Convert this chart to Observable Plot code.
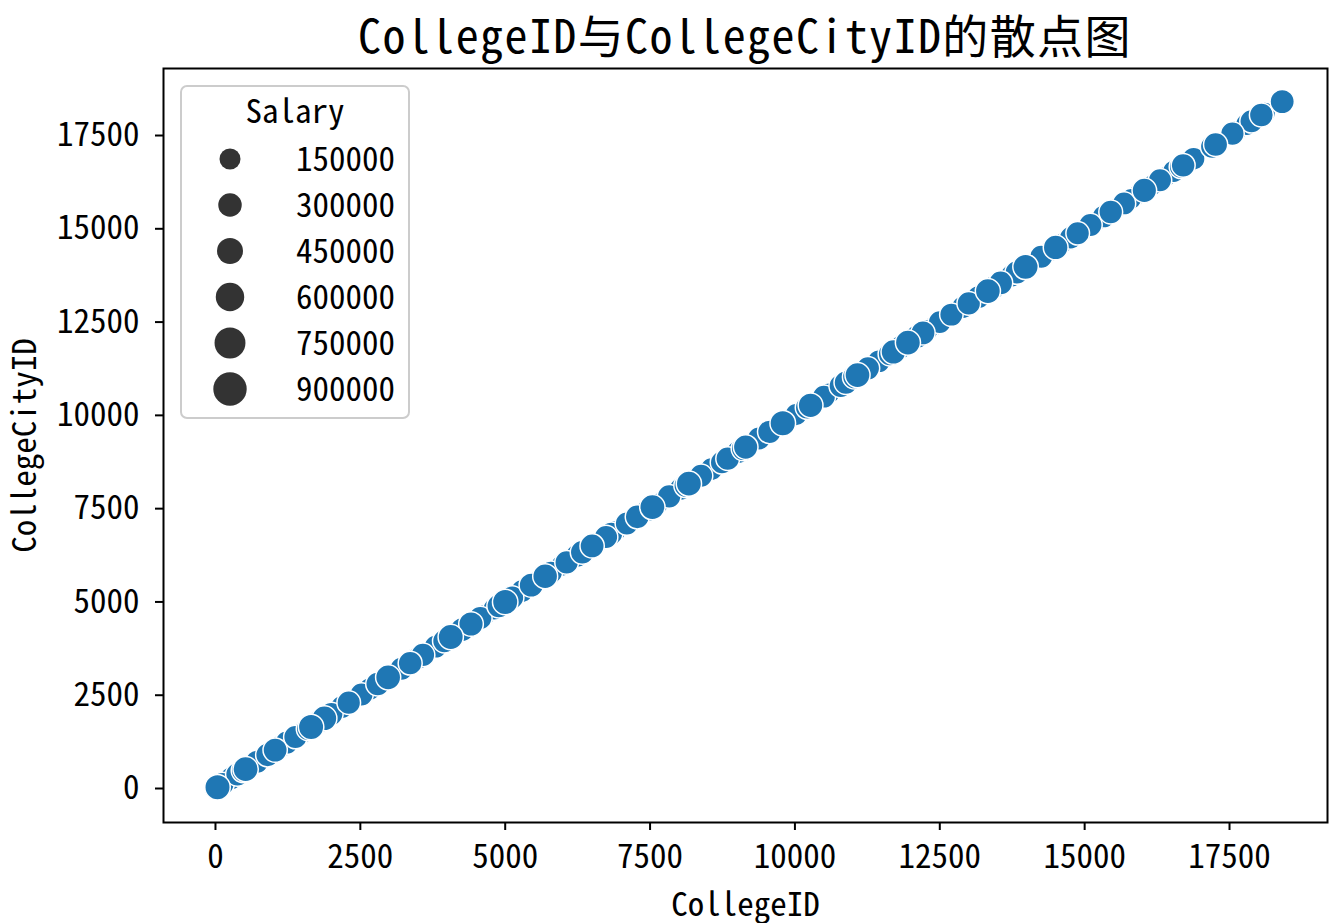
<!DOCTYPE html>
<html>
<head>
<meta charset="utf-8">
<script src="https://cdn.jsdelivr.net/npm/d3@7"></script>
<script src="https://cdn.jsdelivr.net/npm/@observablehq/plot@0.6"></script>
<style>
  html, body { margin: 0; padding: 0; background: white; }
  #title {
    margin-left: 163px; width: 1164px; height: 67px; line-height: 67px;
    text-align: center; font-size: 46px; letter-spacing: 1.4px; color: black;
    font-family: "Noto Sans Mono CJK SC", "Noto Sans CJK SC", "DejaVu Sans Mono", sans-serif;
    white-space: nowrap;
  }
</style>
</head>
<body>
<div id="title">CollegeID与CollegeCityID的散点图</div>
<div id="chart"></div>
<script>
const collegeID = [
  2, 18, 35, 52, 64, 90, 120, 155, 190, 230,
  270, 300, 340, 380, 410, 450, 480, 520, 560, 600,
  640, 680, 720, 770, 810, 850, 900, 940, 980, 1030,
  1080, 1130, 1180, 1230, 1280, 1330, 1380, 1430, 1480, 1540,
  1600, 1650, 1700, 1760, 1820, 1880, 1940, 2000, 2060, 2120,
  2180, 2240, 2300, 2370, 2440, 2520, 2590, 2660, 2730, 2800,
  2860, 2930, 2980, 3070, 3140, 3210, 3290, 3360, 3430, 3510,
  3580, 3650, 3730, 3800, 3880, 3950, 4030, 4060, 4100, 4180,
  4260, 4330, 4410, 4490, 4570, 4650, 4730, 4810, 4890, 4960,
  5000, 5040, 5120, 5200, 5290, 5370, 5450, 5540, 5620, 5690,
  5790, 5880, 5970, 6060, 6150, 6240, 6330, 6420, 6500, 6580,
  6660, 6740, 6830, 6920, 7010, 7100, 7190, 7280, 7370, 7460,
  7540, 7640, 7740, 7830, 7930, 8030, 8120, 8170, 8200, 8290,
  8380, 8470, 8560, 8650, 8740, 8840, 8930, 9020, 9110, 9150,
  9200, 9290, 9380, 9470, 9560, 9650, 9740, 9790, 9830, 9920,
  10020, 10120, 10210, 10270, 10310, 10400, 10500, 10600, 10690, 10790,
  10880, 10980, 11030, 11080, 11160, 11260, 11350, 11450, 11540, 11640,
  11700, 11730, 11830, 11920, 11950, 12020, 12110, 12210, 12300, 12400,
  12500, 12600, 12700, 12800, 12900, 13000, 13080, 13170, 13270, 13330,
  13450, 13550, 13640, 13740, 13830, 13930, 13980, 14060, 14150, 14250,
  14350, 14450, 14500, 14650, 14760, 14880, 14990, 15100, 15220, 15330,
  15450, 15560, 15680, 15800, 15930, 16030, 16180, 16300, 16420, 16540,
  16660, 16700, 16780, 16880, 17200, 17260, 17550, 17620, 17800, 17880,
  18050, 18110, 18409
];
const collegeCityID = [
  2, 18, 35, 52, 64, 90, 120, 155, 190, 230,
  270, 300, 340, 380, 410, 450, 480, 520, 560, 600,
  640, 680, 720, 770, 810, 850, 900, 940, 980, 1030,
  1080, 1130, 1180, 1230, 1280, 1330, 1380, 1430, 1480, 1540,
  1600, 1650, 1700, 1760, 1820, 1880, 1940, 2000, 2060, 2120,
  2180, 2240, 2300, 2370, 2440, 2520, 2590, 2660, 2730, 2800,
  2860, 2930, 2980, 3070, 3140, 3210, 3290, 3360, 3430, 3510,
  3580, 3650, 3730, 3800, 3880, 3950, 4030, 4060, 4100, 4180,
  4260, 4330, 4410, 4490, 4570, 4650, 4730, 4810, 4890, 4960,
  5000, 5040, 5120, 5200, 5290, 5370, 5450, 5540, 5620, 5690,
  5790, 5880, 5970, 6060, 6150, 6240, 6330, 6420, 6500, 6580,
  6660, 6740, 6830, 6920, 7010, 7100, 7190, 7280, 7370, 7460,
  7540, 7640, 7740, 7830, 7930, 8030, 8120, 8170, 8200, 8290,
  8380, 8470, 8560, 8650, 8740, 8840, 8930, 9020, 9110, 9150,
  9200, 9290, 9380, 9470, 9560, 9650, 9740, 9790, 9830, 9920,
  10020, 10120, 10210, 10270, 10310, 10400, 10500, 10600, 10690, 10790,
  10880, 10980, 11030, 11080, 11160, 11260, 11350, 11450, 11540, 11640,
  11700, 11730, 11830, 11920, 11950, 12020, 12110, 12210, 12300, 12400,
  12500, 12600, 12700, 12800, 12900, 13000, 13080, 13170, 13270, 13330,
  13450, 13550, 13640, 13740, 13830, 13930, 13980, 14060, 14150, 14250,
  14350, 14450, 14500, 14650, 14760, 14880, 14990, 15100, 15220, 15330,
  15450, 15560, 15680, 15800, 15930, 16030, 16180, 16300, 16420, 16540,
  16660, 16700, 16780, 16880, 17200, 17260, 17550, 17620, 17800, 17880,
  18050, 18110, 18409
];
const salary = [
  260000, 120000, 420000, 220000, 140000, 200000, 310000, 130000, 250000, 150000,
  280000, 120000, 240000, 320000, 140000, 260000, 340000, 410000, 150000, 270000,
  120000, 250000, 300000, 160000, 120000, 260000, 330000, 290000, 140000, 350000,
  130000, 280000, 160000, 300000, 120000, 260000, 310000, 150000, 120000, 270000,
  320000, 420000, 160000, 290000, 340000, 390000, 140000, 300000, 180000, 150000,
  280000, 130000, 310000, 170000, 120000, 300000, 150000, 260000, 130000, 330000,
  170000, 310000, 400000, 150000, 140000, 300000, 180000, 330000, 130000, 280000,
  320000, 160000, 120000, 290000, 150000, 310000, 190000, 410000, 140000, 300000,
  350000, 160000, 370000, 140000, 310000, 180000, 120000, 250000, 330000, 170000,
  420000, 150000, 300000, 130000, 270000, 160000, 350000, 180000, 140000, 390000,
  280000, 130000, 200000, 310000, 140000, 300000, 330000, 160000, 350000, 190000,
  150000, 310000, 280000, 140000, 120000, 300000, 170000, 340000, 130000, 280000,
  410000, 170000, 140000, 320000, 160000, 290000, 350000, 410000, 180000, 140000,
  300000, 150000, 270000, 130000, 290000, 320000, 160000, 300000, 350000, 370000,
  170000, 140000, 300000, 160000, 320000, 180000, 150000, 430000, 160000, 130000,
  250000, 120000, 310000, 380000, 170000, 140000, 290000, 160000, 150000, 300000,
  320000, 170000, 350000, 400000, 150000, 300000, 130000, 280000, 150000, 310000,
  380000, 160000, 300000, 180000, 400000, 150000, 330000, 350000, 170000, 140000,
  280000, 140000, 300000, 160000, 270000, 310000, 150000, 290000, 170000, 400000,
  300000, 340000, 150000, 280000, 320000, 170000, 420000, 160000, 140000, 300000,
  150000, 290000, 380000, 140000, 270000, 310000, 160000, 300000, 140000, 280000,
  320000, 150000, 290000, 170000, 150000, 370000, 180000, 300000, 140000, 260000,
  290000, 330000, 150000, 270000, 300000, 340000, 310000, 170000, 260000, 300000,
  330000, 180000, 350000
];
const xTicks = [0, 2500, 5000, 7500, 10000, 12500, 15000, 17500];
const yTicks = [0, 2500, 5000, 7500, 10000, 12500, 15000, 17500];
const legendTitle = "Salary";
const legendValues = [150000, 300000, 450000, 600000, 750000, 900000];

const data = collegeID.map((d, i) => ({CollegeID: d, CollegeCityID: collegeCityID[i], Salary: salary[i]}));

const FONT = '"Noto Sans Mono CJK SC", "Noto Sans CJK SC", "DejaVu Sans Mono", sans-serif';
const W = 1337, H = 856;
const mL = 163, mR = 10, mT = 1, mB = 101;

const plot = Plot.plot({
  width: W, height: H,
  marginTop: mT, marginBottom: mB, marginLeft: mL, marginRight: mR,
  style: {fontFamily: FONT, fontSize: "33px", color: "black", background: "white", overflow: "visible"},
  x: {domain: [-897, 19191]},
  y: {domain: [-911, 19296]},
  r: {type: "linear", domain: [0, 1000000], range: [9.26, 17.53]},
  marks: [
    Plot.dot(data, {x: "CollegeID", y: "CollegeCityID", r: "Salary", fill: "#1f77b4", stroke: "white", strokeWidth: 1.5, sort: {channel: "r"}}),
    Plot.frame({stroke: "black", strokeWidth: 2}),
    Plot.axisX({ticks: xTicks, tickFormat: d => String(d), tickSize: 8, tickPadding: 14, strokeWidth: 2,
      label: "CollegeID", labelAnchor: "center", labelOffset: 93, labelArrow: "none"}),
    Plot.axisY({ticks: yTicks, tickFormat: d => String(d), tickSize: 8, tickPadding: 16, strokeWidth: 2,
      label: "CollegeCityID", labelAnchor: "center", labelOffset: 151, labelArrow: "none"})
  ]
});
document.getElementById("chart").appendChild(plot);

// legend (seaborn style, inside the frame, upper-left)
const rs = plot.scale("r");
const rScale = d3.scaleLinear().domain(rs.domain).range(rs.range);
const svg = d3.select(plot);
const lg = svg.append("g").attr("transform", `translate(${mL + 18},${mT + 18})`)
  .style("font-family", FONT);
lg.append("rect").attr("x", 0).attr("y", 0).attr("width", 228).attr("height", 332)
  .attr("rx", 6).attr("fill", "white").attr("fill-opacity", 0.8)
  .attr("stroke", "#cccccc").attr("stroke-width", 2);
lg.append("text").attr("x", 114).attr("y", 23).attr("text-anchor", "middle")
  .attr("dominant-baseline", "central").style("font-size", "33px").attr("fill", "black")
  .text(legendTitle);
legendValues.forEach((v, i) => {
  const cy = 73 + 46 * i;
  lg.append("circle").attr("cx", 49).attr("cy", cy).attr("r", rScale(v)).attr("fill", "#333333");
  lg.append("text").attr("x", 214).attr("y", cy - 2).attr("text-anchor", "end")
    .attr("dominant-baseline", "central").style("font-size", "33px").attr("fill", "black")
    .text(String(v));
});
</script>
</body>
</html>
